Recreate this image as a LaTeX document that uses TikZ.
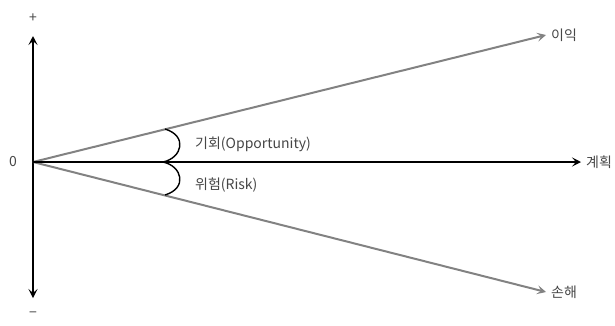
\documentclass[tikz,border=0pt]{standalone}
\usepackage{fontspec}
\setmainfont{Noto Sans CJK KR}
\usetikzlibrary{arrows.meta, positioning}
\definecolor{monGris}{RGB}{130, 130, 130}
\definecolor{monTexte}{RGB}{70, 70, 70}
\tikzset{
  fleche/.style={-{Stealth[length=9pt, width=9pt, inset=4pt]}},
  etiquette/.style={text=monTexte, font=\fontsize{14}{16}\selectfont, inner sep=1pt}
}

\begin{document}
\begin{tikzpicture}[x=1pt, y=-1pt]
        \useasboundingbox (0,0) rectangle (615,325);

        % Points de construction
        \coordinate (O) at (33,162);
        \coordinate (H) at (33,36);
        \coordinate (B) at (33,298);
        \coordinate (P) at (546,35);
        \coordinate (G) at (581,162);
        \coordinate (L) at (546,292);

        % Axe vertical
        \draw[line width=2.4pt, {Stealth[length=9pt, width=9pt, inset=4pt]}-{Stealth[length=9pt, width=9pt, inset=4pt]}] (H) -- (B);

        % Les trois fleches
        \draw[fleche, monGris, line width=2pt] (O) -- (P);
        \draw[fleche, monGris, line width=2pt] (O) -- (L);
        \draw[fleche, line width=2pt] (O) -- (G);

        % Labels des extremites
        \node[etiquette, right=4pt of P] (profit) {이익};
        \node[etiquette, right=4pt of G] (plan) {계획};
        \node[etiquette, right=4pt of L] (perte) {손해};
        \node[etiquette, left=15pt of O] (zero) {0};
        \node[etiquette, above=12pt of H] (plus) {+};
        \node[etiquette, below=13pt of B] (moins) {−};

        % Petits arcs pour les ecarts
        \draw[line width=1.4pt] (165,129) .. controls (188,136) and (182,158) .. (163,162);
        \draw[line width=1.4pt] (163,162) .. controls (182,166) and (188,188) .. (165,195);

        % Labels des ecarts
        \node[etiquette, anchor=west] (chance) at (194,144) {기회(Opportunity)};
        \node[etiquette, anchor=west] (risque) at (194,185) {위험(Risk)};
    \end{tikzpicture}
\end{document}
